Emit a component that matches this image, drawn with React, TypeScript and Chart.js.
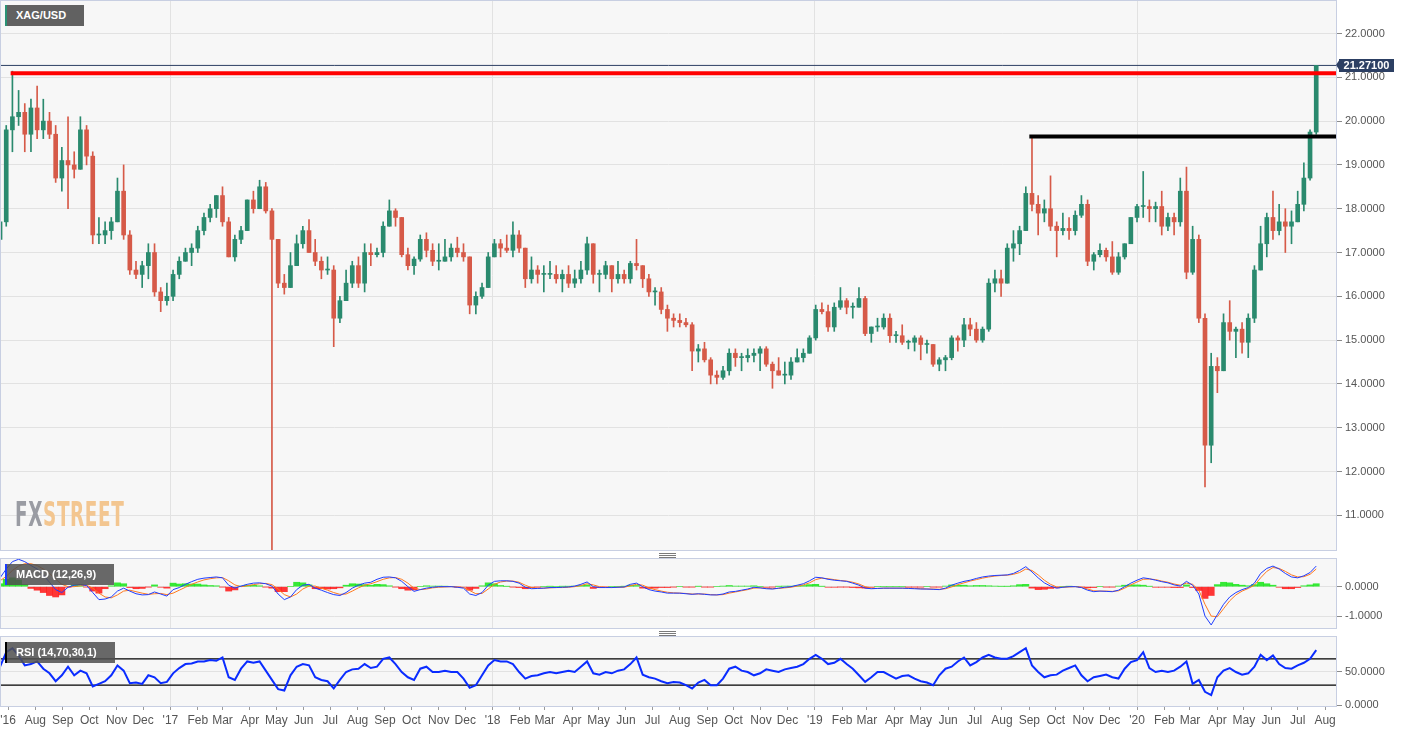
import React, { useEffect, useRef } from "react";
import { Chart, registerables } from "chart.js";

Chart.register(...registerables);

// ---------- DATA ----------
// x axis is measured in calendar days from 2016-07-01
const monthLabels = [
  "'16", "Aug", "Sep", "Oct", "Nov", "Dec",
  "'17", "Feb", "Mar", "Apr", "May", "Jun", "Jul", "Aug", "Sep", "Oct", "Nov", "Dec",
  "'18", "Feb", "Mar", "Apr", "May", "Jun", "Jul", "Aug", "Sep", "Oct", "Nov", "Dec",
  "'19", "Feb", "Mar", "Apr", "May", "Jun", "Jul", "Aug", "Sep", "Oct", "Nov", "Dec",
  "'20", "Feb", "Mar", "Apr", "May", "Jun", "Jul", "Aug",
];
const priceTicks = [11, 12, 13, 14, 15, 16, 17, 18, 19, 20, 21, 22];
const macdTicks = [-1, 0];
const rsiTicks = [0, 50];

// weekly candles, week 0 = week of Monday 2016-06-20
const FIRST_WEEK_MID_DAY = -9;

const wOpen = [
  17.3, 17.7, 19.8, 20.1, 20.2, 19.7, 20.3, 19.8, 20.0, 19.7,
  18.7, 19.1, 19.0, 18.9, 19.8, 19.2, 17.4, 17.4, 17.5, 17.7,
  18.4, 17.4, 16.6, 16.5, 16.7, 17.0, 16.1, 15.9, 16.0, 16.5,
  16.8, 17.0, 17.1, 17.5, 17.8, 18.0, 18.3, 17.7, 16.9, 17.3,
  17.5, 18.2, 18.0, 18.5, 17.95, 17.3, 16.3, 16.2, 16.7, 17.2,
  17.5, 17.0, 16.8, 16.6, 16.6, 15.5, 15.9, 16.3, 16.7, 16.3,
  17.0, 16.95, 17.0, 17.6, 17.95, 17.8, 16.95, 16.7, 16.85, 17.3,
  17.05, 16.8, 16.8, 16.9, 17.1, 17.0, 16.9, 15.8, 16.0, 16.2,
  16.9, 17.2, 17.1, 17.05, 17.4, 17.1, 16.4, 16.6, 16.5, 16.5,
  16.5, 16.4, 16.5, 16.3, 16.4, 16.6, 17.2, 16.5, 16.5, 16.7,
  16.4, 16.5, 16.4, 16.75, 16.7, 16.4, 16.1, 16.1, 15.7, 15.5,
  15.45, 15.4, 15.35, 14.75, 14.8, 14.55, 14.2, 14.15, 14.3, 14.7,
  14.6, 14.6, 14.65, 14.7, 14.8, 14.45, 14.3, 14.2, 14.2, 14.5,
  14.6, 14.7, 15.05, 15.7, 15.65, 15.3, 15.75, 15.9, 15.75, 15.75,
  15.95, 15.15, 15.3, 15.3, 15.5, 15.1, 15.1, 14.95, 14.95, 15.05,
  14.9, 14.9, 14.45, 14.55, 14.6, 15.05, 15.0, 15.35, 15.25, 15.0,
  15.25, 16.3, 16.4, 16.3, 17.1, 17.2, 17.5, 18.35, 18.1, 17.9,
  18.0, 17.6, 17.5, 17.55, 17.5, 17.85, 18.1, 16.8, 16.95, 17.05,
  16.9, 16.55, 16.9, 17.2, 17.8, 18.05, 18.05, 18.0, 18.05, 17.6,
  17.8, 17.7, 18.4, 16.55, 17.3, 15.5, 12.6, 14.4, 14.3, 15.4,
  15.2, 15.25, 14.95, 15.5, 16.6, 17.2, 17.8, 17.5, 17.7, 17.6,
  17.7, 18.1, 18.7, 19.75,
];
const wHigh = [
  18.0, 19.9, 21.14, 20.7, 20.4, 20.5, 20.8, 20.5, 20.2, 19.9,
  19.4, 20.1, 19.3, 20.1, 19.9, 19.3, 17.8, 17.7, 17.8, 18.7,
  19.0, 17.5, 16.8, 16.8, 17.2, 17.2, 16.2, 16.3, 16.6, 16.9,
  17.1, 17.2, 17.6, 17.9, 18.1, 18.3, 18.5, 17.8, 17.4, 17.6,
  18.2, 18.4, 18.65, 18.6, 18.0, 17.3, 16.5, 17.0, 17.4, 17.6,
  17.75, 17.3, 16.9, 16.9, 16.7, 16.0, 16.6, 16.8, 16.9, 17.2,
  17.2, 17.1, 17.7, 18.2, 18.0, 17.8, 17.1, 16.9, 17.4, 17.45,
  17.2, 17.2, 17.3, 17.2, 17.35, 17.2, 16.9, 16.1, 16.3, 17.0,
  17.3, 17.3, 17.4, 17.7, 17.5, 17.1, 16.9, 16.7, 16.7, 16.8,
  16.7, 16.6, 16.7, 16.6, 16.8, 17.35, 17.2, 16.6, 16.8, 16.7,
  16.8, 16.6, 16.8, 17.3, 16.7, 16.5, 16.2, 16.2, 15.8, 15.6,
  15.6, 15.5, 15.4, 14.9, 14.95, 14.6, 14.3, 14.4, 14.8, 14.8,
  14.7, 14.8, 14.8, 14.85, 14.85, 14.5, 14.6, 14.5, 14.6, 14.8,
  14.8, 15.1, 15.8, 15.85, 15.8, 15.85, 16.2, 15.95, 15.85, 16.2,
  16.0, 15.3, 15.5, 15.6, 15.6, 15.2, 15.35, 15.0, 15.1, 15.1,
  15.0, 14.9, 14.6, 14.65, 15.1, 15.1, 15.5, 15.5, 15.4, 15.3,
  16.4, 16.6, 16.6, 17.2, 17.5, 17.6, 18.5, 19.65, 18.3, 18.2,
  18.75, 17.7, 17.9, 17.8, 17.95, 18.3, 18.2, 17.0, 17.2, 17.1,
  17.25, 17.0, 17.2, 17.8, 18.1, 18.85, 18.2, 18.15, 18.4, 17.9,
  17.9, 18.7, 18.95, 17.6, 17.4, 15.6, 14.7, 14.6, 15.6, 15.9,
  15.3, 15.4, 15.6, 16.7, 17.6, 17.9, 18.4, 18.1, 18.0, 17.95,
  18.4, 19.05, 19.8, 21.271,
];
const wLow = [
  17.1, 17.6, 19.3, 19.9, 19.3, 19.3, 19.6, 19.6, 19.6, 18.6,
  18.4, 18.0, 18.7, 18.9, 19.0, 17.2, 17.2, 17.2, 17.3, 17.7,
  17.3, 16.5, 16.4, 16.2, 16.4, 16.0, 15.65, 15.8, 15.9, 16.4,
  16.8, 16.7, 17.0, 17.4, 17.7, 17.8, 17.6, 16.9, 16.8, 17.2,
  17.5, 17.9, 18.0, 17.9, 9.0, 16.2, 16.05, 16.2, 16.7, 17.1,
  17.0, 16.7, 16.4, 16.5, 14.85, 15.4, 15.9, 16.2, 16.2, 16.1,
  16.7, 16.9, 16.9, 17.6, 17.6, 16.9, 16.6, 16.5, 16.8, 16.9,
  16.7, 16.6, 16.8, 16.8, 16.9, 16.8, 15.6, 15.6, 15.95, 16.2,
  16.9, 16.9, 17.0, 16.9, 17.0, 16.2, 16.3, 16.3, 16.1, 16.4,
  16.3, 16.1, 16.2, 16.2, 16.3, 16.5, 16.3, 16.1, 16.4, 16.1,
  16.3, 16.3, 16.3, 16.6, 16.2, 16.0, 15.8, 15.6, 15.2, 15.3,
  15.3, 15.3, 14.3, 14.5, 14.5, 14.0, 14.0, 14.1, 14.2, 14.4,
  14.3, 14.5, 14.5, 14.3, 14.4, 13.9, 14.2, 14.0, 14.1, 14.5,
  14.5, 14.7, 15.0, 15.6, 15.2, 15.2, 15.7, 15.6, 15.5, 15.75,
  15.1, 14.95, 15.2, 15.25, 14.95, 14.95, 14.9, 14.8, 14.75, 14.55,
  14.7, 14.4, 14.3, 14.3, 14.55, 14.75, 14.85, 15.1, 14.95, 14.95,
  15.2, 16.1, 16.0, 16.3, 16.8, 16.95, 17.5, 17.95, 17.4, 17.7,
  17.5, 16.9, 17.4, 17.3, 17.4, 17.8, 16.7, 16.6, 16.9, 16.8,
  16.5, 16.5, 16.85, 17.2, 17.7, 17.8, 17.7, 17.7, 17.4, 17.5,
  17.4, 17.6, 16.4, 16.5, 15.4, 11.65, 12.2, 13.8, 14.3, 15.0,
  14.6, 14.7, 14.6, 15.4, 16.6, 16.9, 17.3, 17.4, 17.0, 17.2,
  17.7, 17.95, 18.65, 19.7,
];
const wClose = [
  17.7, 19.8, 20.1, 20.2, 19.7, 20.3, 19.8, 20.0, 19.7, 18.7,
  19.1, 19.0, 18.9, 19.8, 19.2, 17.4, 17.4, 17.5, 17.7, 18.4,
  17.4, 16.6, 16.5, 16.7, 17.0, 16.1, 15.9, 16.0, 16.5, 16.8,
  17.0, 17.1, 17.5, 17.8, 18.0, 18.3, 17.7, 16.9, 17.3, 17.5,
  18.2, 18.0, 18.5, 17.95, 17.3, 16.3, 16.2, 16.7, 17.2, 17.5,
  17.0, 16.8, 16.6, 16.6, 15.5, 15.9, 16.3, 16.7, 16.3, 17.0,
  16.95, 17.0, 17.6, 17.95, 17.8, 16.95, 16.7, 16.85, 17.3, 17.05,
  16.8, 16.8, 16.9, 17.1, 17.0, 16.9, 15.8, 16.0, 16.2, 16.9,
  17.2, 17.1, 17.05, 17.4, 17.1, 16.4, 16.6, 16.5, 16.5, 16.5,
  16.4, 16.5, 16.3, 16.4, 16.6, 17.2, 16.5, 16.5, 16.7, 16.4,
  16.5, 16.4, 16.75, 16.7, 16.4, 16.1, 16.1, 15.7, 15.5, 15.45,
  15.4, 15.35, 14.75, 14.8, 14.55, 14.2, 14.15, 14.3, 14.7, 14.6,
  14.6, 14.65, 14.7, 14.8, 14.45, 14.3, 14.2, 14.2, 14.5, 14.6,
  14.7, 15.05, 15.7, 15.65, 15.3, 15.75, 15.9, 15.75, 15.75, 15.95,
  15.15, 15.3, 15.3, 15.5, 15.1, 15.1, 14.95, 14.95, 15.05, 14.9,
  14.9, 14.45, 14.55, 14.6, 15.05, 15.0, 15.35, 15.25, 15.0, 15.25,
  16.3, 16.4, 16.3, 17.1, 17.2, 17.5, 18.35, 18.1, 17.9, 18.0,
  17.6, 17.5, 17.55, 17.5, 17.85, 18.1, 16.8, 16.95, 17.05, 16.9,
  16.55, 16.9, 17.2, 17.8, 18.05, 18.05, 18.0, 18.05, 17.6, 17.8,
  17.7, 18.4, 16.55, 17.3, 15.5, 12.6, 14.4, 14.3, 15.4, 15.2,
  15.25, 14.95, 15.5, 16.6, 17.2, 17.8, 17.5, 17.7, 17.6, 17.7,
  18.1, 18.7, 19.75, 21.271,
];

const macdLine = [
  0.3, 0.6, 0.85, 0.93, 0.85, 0.72, 0.6, 0.4, 0.15, -0.1,
  -0.2, -0.02, 0.05, 0.07, 0.04, -0.2, -0.44, -0.42, -0.35, -0.15,
  -0.05, -0.15, -0.24, -0.28, -0.27, -0.18, -0.25, -0.32, -0.1, -0.03,
  0.08, 0.17, 0.25, 0.29, 0.31, 0.33, 0.3, 0.05, -0.05, 0.02,
  0.08, 0.12, 0.13, 0.1, 0.02, -0.25, -0.44, -0.35, -0.1, 0.05,
  0.08, -0.05, -0.12, -0.2, -0.27, -0.3, -0.2, -0.05, 0.05, 0.12,
  0.15, 0.25, 0.32, 0.33, 0.3, 0.18, 0.0, -0.16, -0.1, -0.05,
  -0.02, 0.0, 0.0, 0.0, -0.02, -0.05, -0.25, -0.3, -0.2, 0.05,
  0.18, 0.2, 0.2, 0.18, 0.12, -0.02, -0.07, -0.06, -0.05, -0.03,
  -0.03, -0.02, -0.01, 0.02, 0.08, 0.16, 0.0, -0.03, -0.03, -0.03,
  -0.02, -0.01, 0.08, 0.12, 0.0, -0.1, -0.15, -0.18, -0.22, -0.22,
  -0.22, -0.24, -0.26, -0.24, -0.26, -0.28, -0.28, -0.25, -0.18, -0.16,
  -0.12, -0.08, -0.02, -0.04, -0.07, -0.08, -0.05, -0.02, 0.0, 0.05,
  0.1, 0.2, 0.32, 0.3, 0.25, 0.22, 0.2, 0.18, 0.12, 0.05,
  -0.05, -0.07, -0.06, -0.05, -0.05, -0.05, -0.05, -0.06, -0.07, -0.08,
  -0.08, -0.09, -0.1, -0.05, 0.05, 0.12, 0.18, 0.22, 0.28, 0.33,
  0.36, 0.38, 0.39, 0.4, 0.45, 0.55, 0.68, 0.5, 0.3, 0.13,
  0.02, -0.05, -0.02, 0.0, 0.0, -0.03, -0.12, -0.17, -0.15, -0.16,
  -0.17, -0.12, 0.0, 0.12, 0.22, 0.3, 0.27, 0.22, 0.17, 0.13,
  0.06, 0.02, 0.18, 0.05, -0.25, -1.0, -1.3, -0.95, -0.6, -0.35,
  -0.2, -0.1, -0.03, 0.12, 0.45, 0.62, 0.7, 0.6, 0.45, 0.33,
  0.3, 0.37, 0.48, 0.7,
];
const macdSignal = [
  0.2, 0.35, 0.55, 0.7, 0.78, 0.78, 0.72, 0.6, 0.45, 0.25,
  0.08, 0.0, 0.0, 0.03, 0.05, -0.05, -0.22, -0.35, -0.38, -0.28,
  -0.15, -0.12, -0.17, -0.22, -0.26, -0.24, -0.23, -0.27, -0.22, -0.12,
  -0.02, 0.08, 0.16, 0.23, 0.27, 0.3, 0.31, 0.2, 0.06, 0.0,
  0.03, 0.07, 0.1, 0.11, 0.07, -0.08, -0.27, -0.35, -0.25, -0.08,
  0.02, 0.02, -0.05, -0.12, -0.2, -0.26, -0.25, -0.15, -0.04, 0.05,
  0.1, 0.17, 0.25, 0.3, 0.31, 0.25, 0.12, -0.05, -0.1, -0.08,
  -0.04, -0.02, -0.01, 0.0, -0.01, -0.03, -0.13, -0.24, -0.23, -0.08,
  0.08, 0.16, 0.19, 0.19, 0.15, 0.05, -0.03, -0.05, -0.05, -0.04,
  -0.03, -0.03, -0.02, 0.0, 0.04, 0.1, 0.06, 0.0, -0.02, -0.03,
  -0.02, -0.02, 0.03, 0.08, 0.05, -0.04, -0.1, -0.15, -0.19, -0.21,
  -0.22, -0.23, -0.25, -0.25, -0.25, -0.27, -0.28, -0.27, -0.22, -0.18,
  -0.14, -0.1, -0.05, -0.04, -0.05, -0.07, -0.06, -0.04, -0.02, 0.02,
  0.06, 0.13, 0.24, 0.29, 0.27, 0.24, 0.21, 0.19, 0.15, 0.09,
  0.0, -0.05, -0.06, -0.05, -0.05, -0.05, -0.05, -0.05, -0.06, -0.07,
  -0.08, -0.08, -0.09, -0.07, -0.01, 0.07, 0.13, 0.19, 0.24, 0.29,
  0.33, 0.36, 0.38, 0.39, 0.42, 0.48, 0.6, 0.55, 0.4, 0.22,
  0.08, -0.01, -0.02, -0.01, 0.0, -0.02, -0.08, -0.14, -0.15, -0.15,
  -0.16, -0.14, -0.05, 0.06, 0.16, 0.25, 0.26, 0.24, 0.19, 0.15,
  0.09, 0.05, 0.12, 0.08, -0.12, -0.6, -1.0, -1.02, -0.75, -0.48,
  -0.28, -0.15, -0.06, 0.05, 0.3, 0.52, 0.65, 0.62, 0.52, 0.4,
  0.33, 0.34, 0.42, 0.6,
];
const rsiLine = [
  58, 80, 86, 75, 60, 62, 66, 55, 48, 36,
  45, 58, 45, 52, 48, 28, 32, 36, 45, 60,
  52, 33, 34, 32, 45, 42, 33, 35, 48, 56,
  62, 63, 66, 66, 68, 67, 72, 42, 38, 55,
  66, 64, 66, 52, 38, 24, 22, 45, 58, 62,
  60, 42, 38, 36, 25, 38, 50, 54, 55, 62,
  56, 58, 70, 72, 62, 50, 42, 38, 55, 58,
  50, 50, 52, 50, 50, 40, 26, 30, 45, 60,
  68, 66, 66, 62, 50, 40, 44, 45, 48, 50,
  48, 50, 52, 50, 58, 66, 48, 46, 50, 48,
  52, 54, 62, 72, 46, 42, 40, 36, 33, 35,
  34, 30, 25, 34, 38, 30, 30, 40, 55, 58,
  52, 50, 45, 48, 54, 52, 50, 54, 56, 58,
  62, 70, 76, 70, 62, 64, 70, 62, 55, 45,
  35, 42, 50, 50, 45, 40, 44, 45, 40, 36,
  34, 30, 45, 55, 58, 66, 72, 60, 65, 72,
  76, 72, 70, 70, 74, 80, 86, 60, 50, 42,
  45, 46, 52, 56, 60, 45, 36, 42, 44, 46,
  42, 40, 55, 65, 68, 80, 56, 50, 52, 50,
  52, 58, 66, 32, 38, 20, 15, 42, 52, 56,
  50, 46, 48, 58, 76, 68, 75, 62, 56, 55,
  60, 64, 70, 83,
];

const resistanceLevel = 21.09;
const resistanceStartDay = 3; // 2016-07-04
const supportLevel = 19.65;
const supportStartDay = 1157; // 2019-09-01
const rsiUpper = 70;
const rsiLower = 30;

// ---------- LAYOUT / STYLE ----------
const W = 1413;
const AXIS_W = 77;
const X_MIN = -7.93;
const X_MAX = 1504.4;
const FONT = "'Liberation Sans', Arial, sans-serif";
const UP = "#2a8a6e";
const DOWN = "#d65a48";

const dayOfMonthTick = (k: number) =>
  (Date.UTC(2016, 6 + k, 1) - Date.UTC(2016, 6, 1)) / 86400000;
const monthTickDays = monthLabels.map((_, k) => dayOfMonthTick(k));
const yearStartDays = new Set(
  monthLabels.map((_, k) => k).filter((k) => (6 + k) % 12 === 0).map(dayOfMonthTick)
);
const weekX = (i: number) => FIRST_WEEK_MID_DAY + 7 * i;

const panelPlugin = {
  id: "panel",
  beforeDraw(chart: any) {
    const { ctx, chartArea: a } = chart;
    ctx.save();
    ctx.fillStyle = "#f7f7f7";
    ctx.fillRect(a.left, a.top, a.right - a.left, a.bottom - a.top);
    ctx.restore();
  },
  afterDraw(chart: any) {
    const { ctx, chartArea: a } = chart;
    ctx.save();
    ctx.strokeStyle = "#c8cfe2";
    ctx.lineWidth = 1;
    ctx.strokeRect(a.left - 0.5, a.top - 0.5, a.right - a.left + 1, a.bottom - a.top + 1);
    ctx.restore();
  },
};

const priceTagPlugin = {
  id: "priceTag",
  afterDraw(chart: any) {
    const { ctx, chartArea: a, scales } = chart;
    const last = wClose[wClose.length - 1];
    const y = Math.round(scales.y.getPixelForValue(last));
    ctx.save();
    ctx.fillStyle = "#2c3f63";
    const left = a.right + 3;
    ctx.beginPath();
    ctx.moveTo(a.right, y);
    ctx.lineTo(left + 1, y - 6);
    ctx.lineTo(left + 1, y + 6);
    ctx.closePath();
    ctx.fill();
    ctx.fillRect(left, y - 6, 55, 13);
    ctx.fillStyle = "#ffffff";
    ctx.font = `bold 11px ${FONT}`;
    ctx.textAlign = "center";
    ctx.textBaseline = "middle";
    ctx.fillText(last.toFixed(5), left + 27.5, y + 0.5);
    ctx.restore();
  },
};

function xScale(showLabels: boolean): any {
  return {
    type: "linear",
    min: X_MIN,
    max: X_MAX,
    offset: false,
    afterBuildTicks: (s: any) => {
      s.ticks = monthTickDays.map((v) => ({ value: v }));
    },
    afterFit: (s: any) => {
      s.paddingLeft = 0;
      s.paddingRight = 0;
      s.height = showLabels ? 26 : 0;
    },
    grid: {
      offset: false,
      color: (c: any) =>
        c.tick && yearStartDays.has(c.tick.value) ? "#e2e2e2" : "rgba(0,0,0,0)",
      drawTicks: showLabels,
      tickLength: 4,
      tickColor: "#9a9a9a",
    },
    border: { display: false },
    ticks: {
      display: showLabels,
      autoSkip: false,
      maxRotation: 0,
      padding: 3,
      color: "#555",
      font: { family: FONT, size: 12 },
      callback: (_v: any, i: number) => monthLabels[i],
    },
  };
}

function yScale(min: number, max: number, ticks: number[], gridColor: any): any {
  return {
    position: "right",
    min,
    max,
    afterBuildTicks: (s: any) => {
      s.ticks = ticks.map((v) => ({ value: v }));
    },
    afterFit: (s: any) => {
      s.width = AXIS_W;
      s.paddingTop = 0;
      s.paddingBottom = 0;
    },
    grid: { color: gridColor, tickColor: "#8a8a8a", tickLength: 6, drawTicks: true },
    border: { display: false },
    ticks: {
      color: "#555",
      padding: 3,
      font: { family: FONT, size: 11 },
      callback: (v: any) => Number(v).toFixed(4),
    },
  };
}

const baseOptions = (scales: any, padding: any): any => ({
  animation: false,
  responsive: false,
  maintainAspectRatio: false,
  events: [],
  layout: { padding, autoPadding: false },
  plugins: { legend: { display: false }, tooltip: { enabled: false } },
  scales,
});

function useChart(ref: React.RefObject<HTMLCanvasElement>, make: () => any) {
  useEffect(() => {
    if (!ref.current) return;
    const chart = new Chart(ref.current, make());
    return () => chart.destroy();
  }, []);
}

export default function App() {
  const mainRef = useRef<HTMLCanvasElement>(null);
  const macdRef = useRef<HTMLCanvasElement>(null);
  const rsiRef = useRef<HTMLCanvasElement>(null);

  useChart(mainRef, () => {
    const colors = wClose.map((c, i) => (c >= wOpen[i] ? UP : DOWN));
    return {
      type: "bar",
      data: {
        datasets: [
          {
            type: "line",
            order: 1,
            data: [
              { x: resistanceStartDay, y: resistanceLevel },
              { x: X_MAX, y: resistanceLevel },
            ],
            borderColor: "#ff0000",
            borderWidth: 4,
            pointRadius: 0,
          },
          {
            type: "line",
            order: 1,
            data: [
              { x: supportStartDay, y: supportLevel },
              { x: X_MAX, y: supportLevel },
            ],
            borderColor: "#000000",
            borderWidth: 4,
            pointRadius: 0,
          },
          {
            type: "line",
            order: 5,
            data: [
              { x: X_MIN, y: wClose[wClose.length - 1] },
              { x: X_MAX, y: wClose[wClose.length - 1] },
            ],
            borderColor: "#2c3f63",
            borderWidth: 1,
            pointRadius: 0,
          },
          {
            type: "bar",
            order: 2,
            data: wOpen.map((o, i) => ({ x: weekX(i), y: [o, wClose[i]] })),
            backgroundColor: colors,
            barThickness: 4,
            minBarLength: 1,
            grouped: false,
          },
          {
            type: "bar",
            order: 3,
            data: wLow.map((l, i) => ({ x: weekX(i), y: [l, wHigh[i]] })),
            backgroundColor: colors,
            barThickness: 1,
            grouped: false,
          },
        ],
      },
      options: baseOptions(
        {
          x: xScale(false),
          y: yScale(10.208, 22.742, priceTicks, "#e2e2e2"),
        },
        { left: 1, top: 1, right: 0, bottom: 1 }
      ),
      plugins: [panelPlugin, priceTagPlugin],
    };
  });

  useChart(macdRef, () => {
    const hist = macdLine.map((m, i) => m - macdSignal[i]);
    return {
      type: "bar",
      data: {
        datasets: [
          {
            type: "line",
            order: 1,
            data: macdLine.map((v, i) => ({ x: weekX(i), y: v })),
            borderColor: "#1f3dff",
            borderWidth: 1,
            pointRadius: 0,
          },
          {
            type: "line",
            order: 2,
            data: macdSignal.map((v, i) => ({ x: weekX(i), y: v })),
            borderColor: "#ff7a1f",
            borderWidth: 1,
            pointRadius: 0,
          },
          {
            type: "bar",
            order: 3,
            data: hist.map((v, i) => ({ x: weekX(i), y: v })),
            backgroundColor: hist.map((v) => (v >= 0 ? "rgba(20,230,20,0.85)" : "rgba(255,20,20,0.85)")),
            barPercentage: 1,
            categoryPercentage: 1,
            grouped: false,
          },
        ],
      },
      options: baseOptions(
        {
          x: xScale(false),
          y: yScale(-1.404, 0.94, macdTicks, "#e2e2e2"),
        },
        { left: 1, top: 1, right: 0, bottom: 1 }
      ),
      plugins: [panelPlugin],
    };
  });

  useChart(rsiRef, () => ({
    type: "line",
    data: {
      datasets: [
        {
          order: 1,
          data: rsiLine.map((v, i) => ({ x: weekX(i), y: v })),
          borderColor: "#0a2cff",
          borderWidth: 2,
          pointRadius: 0,
        },
        {
          order: 2,
          data: [
            { x: X_MIN, y: rsiUpper },
            { x: X_MAX, y: rsiUpper },
          ],
          borderColor: "#000000",
          borderWidth: 1.3,
          pointRadius: 0,
        },
        {
          order: 2,
          data: [
            { x: X_MIN, y: rsiLower },
            { x: X_MAX, y: rsiLower },
          ],
          borderColor: "#000000",
          borderWidth: 1.3,
          pointRadius: 0,
        },
      ],
    },
    options: baseOptions(
      {
        x: xScale(true),
        y: yScale(-1.5, 103, rsiTicks, (c: any) =>
          c.tick && c.tick.value === 0 ? "rgba(0,0,0,0)" : "#e2e2e2"
        ),
      },
      { left: 1, top: 1, right: 0, bottom: 0 }
    ),
    plugins: [panelPlugin],
  }));

  const boxStyle = (top: number, width: number, bar: string, bg: string): React.CSSProperties => ({
    position: "absolute",
    left: 5,
    top,
    width,
    height: 21,
    background: bg,
    borderLeft: `2px solid ${bar}`,
    boxSizing: "border-box",
    color: "#ffffff",
    font: `bold 11px ${FONT}`,
    lineHeight: "21px",
    paddingLeft: 9,
    whiteSpace: "nowrap",
  });

  const handle = (top: number) => (
    <div style={{ position: "absolute", left: 659, top, width: 17, height: 5 }}>
      {[0, 2, 4].map((d) => (
        <div key={d} style={{ position: "absolute", left: 0, top: d, width: 17, height: 1, background: "#7a7a7a" }} />
      ))}
    </div>
  );

  return (
    <div
      style={{
        position: "fixed",
        left: 0,
        top: 0,
        width: W,
        height: 732,
        background: "#ffffff",
        overflow: "hidden",
      }}
    >
      <canvas ref={mainRef} width={W} height={551} style={{ position: "absolute", left: 0, top: 0 }} />
      <canvas ref={macdRef} width={W} height={71} style={{ position: "absolute", left: 0, top: 558 }} />
      <canvas ref={rsiRef} width={W} height={96} style={{ position: "absolute", left: 0, top: 636 }} />

      <div style={boxStyle(5, 79, "#2a9274", "#616161")}>XAG/USD</div>
      <div style={boxStyle(564, 109, "#1a3cff", "rgba(80,80,80,0.86)")}>MACD (12,26,9)</div>
      <div style={boxStyle(642, 110, "#000000", "rgba(80,80,80,0.86)")}>RSI (14,70,30,1)</div>

      {handle(553)}
      {handle(631)}

      <div
        style={{
          position: "absolute",
          left: 15,
          top: 497,
          font: `bold 33px 'DejaVu Sans Condensed', 'DejaVu Sans', sans-serif`,
          transform: "scaleX(0.62)",
          transformOrigin: "left top",
          whiteSpace: "nowrap",
          lineHeight: "36px",
          letterSpacing: 1,
        }}
      >
        <span style={{ color: "#9a9ca3" }}>FX</span>
        <span style={{ color: "#f3c690" }}>STREET</span>
      </div>
    </div>
  );
}
